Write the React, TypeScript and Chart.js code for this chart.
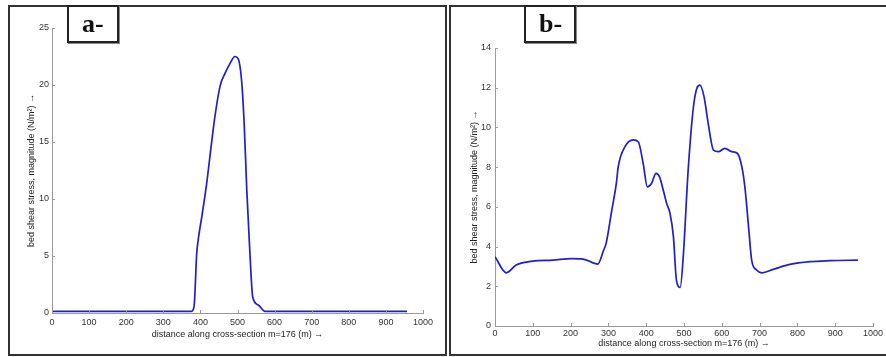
import React, { useEffect, useRef } from "react";
import { Chart, registerables } from "chart.js";

Chart.register(...registerables);

// Panel a data
const distA = [0, 100, 200, 300, 376, 383, 390, 394, 405, 417, 430, 439, 453, 466, 480, 493, 502, 511, 518, 525, 534, 541, 556, 574, 600, 700, 800, 957];
const stressA = [0.15, 0.15, 0.15, 0.15, 0.15, 0.6, 5.2, 6.4, 8.7, 11.4, 14.9, 17.2, 19.9, 21.0, 21.9, 22.5, 22.3, 20.4, 16.6, 10.8, 4.9, 1.4, 0.7, 0.15, 0.15, 0.15, 0.15, 0.15];

// Panel b data
const distB = [0, 30, 56, 100, 153, 202, 233, 272, 287, 294, 309, 321, 326, 344, 366, 379, 392, 403, 414, 426, 435, 445, 454, 463, 472, 480, 490, 498, 511, 525, 534, 542, 553, 564, 578, 591, 608, 626, 641, 653, 661, 670, 679, 692, 706, 736, 780, 833, 886, 960];
const stressB = [3.49, 2.68, 3.07, 3.27, 3.32, 3.39, 3.37, 3.12, 3.8, 4.16, 5.84, 7.18, 8.02, 9.03, 9.37, 9.28, 8.19, 7.01, 7.18, 7.69, 7.52, 6.85, 6.18, 5.67, 4.5, 2.3, 1.95, 3.49, 7.85, 11.04, 11.97, 12.13, 11.55, 10.2, 8.86, 8.78, 8.95, 8.78, 8.7, 8.02, 7.01, 5.17, 3.32, 2.82, 2.68, 2.85, 3.1, 3.24, 3.29, 3.32];

const xTitle = "distance along cross-section m=176 (m) →";
const yTitle = "bed shear stress, magnitude (N/m²) →";

const inwardTicks = {
  id: "inwardTicks",
  afterDatasetsDraw(chart: any) {
    const ctx = chart.ctx;
    const xs = chart.scales.x;
    const ys = chart.scales.y;
    ctx.save();
    ctx.strokeStyle = "#9a9a9a";
    ctx.lineWidth = 1;
    ctx.beginPath();
    xs.ticks.forEach((t: any) => {
      const px = Math.round(xs.getPixelForValue(t.value)) + 0.5;
      ctx.moveTo(px, xs.top);
      ctx.lineTo(px, xs.top - 3);
    });
    ys.ticks.forEach((t: any) => {
      const py = Math.round(ys.getPixelForValue(t.value)) + 0.5;
      ctx.moveTo(ys.right, py);
      ctx.lineTo(ys.right + 3, py);
    });
    ctx.stroke();
    ctx.restore();
  },
};

type Cfg = {
  dist: number[];
  stress: number[];
  yMax: number;
  yStep: number;
  padL: number;
  padR: number;
  padT: number;
  padB: number;
  yW: number;
  xH: number;
  yTitlePad: number;
  xTitlePad: number;
  xTickPad: number;
  yTickPad: number;
};

function Plot({ cfg, width, height }: { cfg: Cfg; width: number; height: number }) {
  const ref = useRef<HTMLCanvasElement | null>(null);
  useEffect(() => {
    if (!ref.current) return;
    const font = { family: "'Liberation Sans', Arial, sans-serif", size: 9 };
    const plain = (v: any) => String(v);
    const chart = new Chart(ref.current, {
      type: "line",
      data: {
        datasets: [
          {
            data: cfg.dist.map((d, i) => ({ x: d, y: cfg.stress[i] })),
            borderColor: "#1f1fd0",
            borderWidth: 1.7,
            pointRadius: 0,
            cubicInterpolationMode: "monotone",
            fill: false,
          },
        ],
      },
      options: {
        responsive: false,
        animation: false,
        devicePixelRatio: 1,
        layout: { padding: { left: cfg.padL, right: cfg.padR, top: cfg.padT, bottom: cfg.padB } },
        plugins: { legend: { display: false }, tooltip: { enabled: false }, title: { display: false } },
        scales: {
          x: {
            type: "linear",
            min: 0,
            max: 1000,
            grid: { display: false, drawTicks: false },
            border: { display: true, color: "#9a9a9a", width: 1 },
            ticks: { stepSize: 100, color: "#333", font, padding: cfg.xTickPad, maxRotation: 0, autoSkip: false, callback: plain },
            title: { display: true, text: xTitle, color: "#222", font, padding: { top: 0, bottom: cfg.xTitlePad } },
            afterFit: (s: any) => {
              s.height = cfg.xH;
            },
          },
          y: {
            type: "linear",
            min: 0,
            max: cfg.yMax,
            grid: { display: false, drawTicks: false },
            border: { display: true, color: "#9a9a9a", width: 1 },
            ticks: { stepSize: cfg.yStep, color: "#333", font, padding: cfg.yTickPad, callback: plain },
            title: { display: true, text: yTitle, color: "#222", font, padding: { top: cfg.yTitlePad, bottom: 0 } },
            afterFit: (s: any) => {
              s.width = cfg.yW;
            },
          },
        },
      },
      plugins: [inwardTicks],
    } as any);
    return () => chart.destroy();
  }, [cfg]);
  return <canvas ref={ref} width={width} height={height} style={{ position: "absolute", left: 0, top: 0 }} />;
}

const cfgA: Cfg = {
  dist: distA,
  stress: stressA,
  yMax: 25,
  yStep: 5,
  padL: 14,
  padR: 24,
  padT: 23,
  padB: 10,
  yW: 30,
  xH: 33,
  yTitlePad: 4.6,
  xTitlePad: 5.6,
  xTickPad: 4.3,
  yTickPad: 3,
};

const cfgB: Cfg = {
  dist: distB,
  stress: stressB,
  yMax: 14,
  yStep: 2,
  padL: 14,
  padR: 13,
  padT: 43,
  padB: 4,
  yW: 32,
  xH: 26,
  yTitlePad: 6.6,
  xTitlePad: 2.6,
  xTickPad: 2.6,
  yTickPad: 4,
};

const labelBox = (left: number): React.CSSProperties => ({
  position: "absolute",
  left,
  top: 5,
  width: 52,
  height: 38,
  boxSizing: "border-box",
  border: "2px solid #222",
  boxShadow: "1px 1px 0 #888",
  background: "#fff",
  fontFamily: "'Liberation Serif', 'Times New Roman', serif",
  fontWeight: "bold",
  fontSize: 26,
  lineHeight: "34px",
  paddingLeft: 13,
  color: "#111",
  zIndex: 3,
});

export default function App() {
  return (
    <div style={{ position: "fixed", left: 0, top: 0, width: 886, height: 357, background: "#fff", overflow: "hidden" }}>
      <div
        style={{
          position: "absolute",
          left: 8,
          top: 5,
          width: 439,
          height: 351,
          boxSizing: "border-box",
          border: "2px solid #333",
          overflow: "hidden",
        }}
      >
        <div style={{ position: "absolute", left: -2, top: -2 }}>
          <Plot cfg={cfgA} width={439} height={351} />
        </div>
      </div>
      <div
        style={{
          position: "absolute",
          left: 449,
          top: 5,
          width: 450,
          height: 351,
          boxSizing: "border-box",
          border: "2px solid #333",
          overflow: "hidden",
        }}
      >
        <div style={{ position: "absolute", left: -2, top: -2 }}>
          <Plot cfg={cfgB} width={437} height={351} />
        </div>
      </div>
      <div style={labelBox(67)}>a-</div>
      <div style={labelBox(524)}>b-</div>
    </div>
  );
}
